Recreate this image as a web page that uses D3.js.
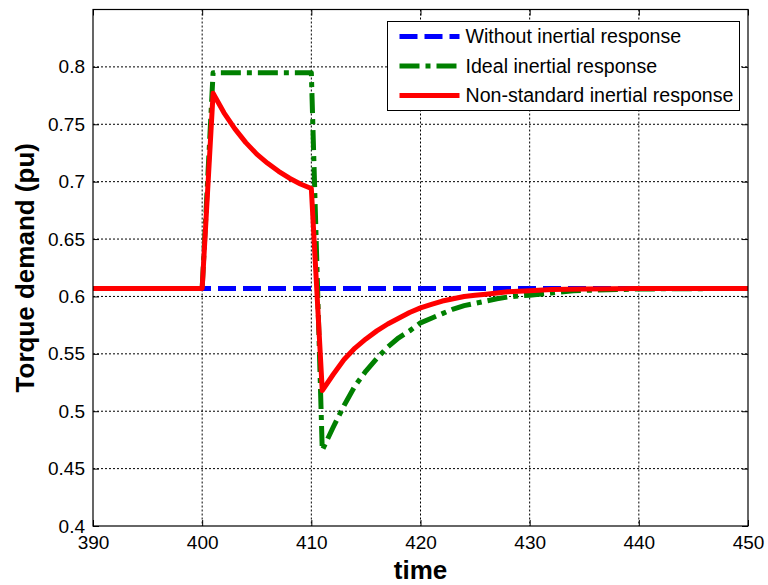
<!DOCTYPE html>
<html>
<head>
<meta charset="utf-8">
<script src="https://cdn.jsdelivr.net/npm/d3@7"></script>
<style>
  body { margin: 0; background: #fff; }
  text { font-family: "Liberation Sans", Arial, sans-serif; }
</style>
</head>
<body>
<div id="chart"></div>
<script>
// Chart data
var xTicks = [390, 400, 410, 420, 430, 440, 450];
var yTicks = [0.4, 0.45, 0.5, 0.55, 0.6, 0.65, 0.7, 0.75, 0.8];

var blueT = [390, 450];
var blueV = [0.607, 0.607];

var greenT = [390, 400, 401, 410, 411, 412, 413, 414, 415, 416, 417, 418, 419, 420,
  421, 422, 423, 424, 425, 426, 427, 428, 429, 430, 432, 434, 436, 438, 440, 450];
var greenV = [0.607, 0.607, 0.795, 0.795, 0.466, 0.486, 0.505, 0.522, 0.535, 0.546, 0.556, 0.564, 0.570, 0.577,
  0.581, 0.585, 0.589, 0.592, 0.594, 0.596, 0.598, 0.5995, 0.6005, 0.601, 0.603, 0.605, 0.6055, 0.606, 0.6065, 0.607];

var redT = [390, 400, 401, 402, 403, 404, 405, 406, 407, 408, 409, 410, 411, 412, 413, 414, 415, 416, 417, 418,
  419, 420, 421, 422, 423, 424, 425, 426, 427, 428, 429, 430, 432, 435, 440, 450];
var redV = [0.607, 0.607, 0.777, 0.760, 0.746, 0.734, 0.724, 0.716, 0.709, 0.703, 0.698, 0.694, 0.518, 0.532, 0.545, 0.555, 0.563, 0.570, 0.576, 0.581,
  0.586, 0.590, 0.593, 0.596, 0.598, 0.600, 0.601, 0.602, 0.603, 0.604, 0.6045, 0.605, 0.606, 0.6065, 0.607, 0.607];

var seriesNames = ["Without inertial response", "Ideal inertial response", "Non-standard inertial response"];

// canvas
var svgWidth = 768;
var svgHeight = 585;
var margin = { top: 9.5, right: 20, bottom: 59, left: 93 };
var width = svgWidth - margin.left - margin.right;
var height = svgHeight - margin.top - margin.bottom;

var svg = d3.select("#chart")
  .append("svg")
  .attr("width", svgWidth)
  .attr("height", svgHeight);

var chartGroup = svg.append("g")
  .attr("transform", `translate(${margin.left}, ${margin.top})`);

var xScale = d3.scaleLinear().domain([390, 450]).range([0, width]);
var yScale = d3.scaleLinear().domain([0.4, 0.85]).range([height, 0]);

// dotted grid
chartGroup.append("g")
  .selectAll("line")
  .data(xTicks.slice(1, -1))
  .enter()
  .append("line")
  .attr("x1", d => xScale(d)).attr("x2", d => xScale(d))
  .attr("y1", 0).attr("y2", height)
  .attr("stroke", "#000").attr("stroke-width", 1)
  .attr("stroke-dasharray", "2,2");

chartGroup.append("g")
  .selectAll("line")
  .data(yTicks.slice(1))
  .enter()
  .append("line")
  .attr("y1", d => yScale(d)).attr("y2", d => yScale(d))
  .attr("x1", 0).attr("x2", width)
  .attr("stroke", "#000").attr("stroke-width", 1)
  .attr("stroke-dasharray", "2,2");

// lines
var line = d3.line()
  .x(d => xScale(d[0]))
  .y(d => yScale(d[1]));

var series = [
  { t: blueT, v: blueV, color: "#0000ff", dash: "18,7" },
  { t: greenT, v: greenV, color: "#008000", dash: "20,6,5,6" },
  { t: redT, v: redV, color: "#ff0000", dash: null }
];

series.forEach(function (s) {
  chartGroup.append("path")
    .datum(d3.zip(s.t, s.v))
    .attr("d", line)
    .attr("fill", "none")
    .attr("stroke", s.color)
    .attr("stroke-width", 5)
    .attr("stroke-linejoin", "round")
    .attr("stroke-dasharray", s.dash);
});

// axes with inward ticks on all sides
var bottomAxis = d3.axisBottom(xScale).tickValues(xTicks).tickSizeInner(-6).tickSizeOuter(0).tickPadding(10);
var leftAxis = d3.axisLeft(yScale).tickValues(yTicks).tickSizeInner(-6).tickSizeOuter(0).tickPadding(8)
  .tickFormat(d3.format("~g"));
var topAxis = d3.axisTop(xScale).tickValues(xTicks).tickSizeInner(-6).tickSizeOuter(0).tickFormat("");
var rightAxis = d3.axisRight(yScale).tickValues(yTicks).tickSizeInner(-6).tickSizeOuter(0).tickFormat("");

chartGroup.append("g").attr("class", "axis").attr("transform", `translate(0, ${height})`).call(bottomAxis);
chartGroup.append("g").attr("class", "axis").call(leftAxis);
chartGroup.append("g").attr("class", "axis").call(topAxis);
chartGroup.append("g").attr("class", "axis").attr("transform", `translate(${width}, 0)`).call(rightAxis);

chartGroup.selectAll(".axis .domain").remove();
chartGroup.selectAll(".axis text")
  .attr("fill", "#000")
  .style("font-size", "19px");
chartGroup.selectAll(".axis line").attr("stroke", "#000");

chartGroup.append("rect")
  .attr("width", width).attr("height", height)
  .attr("fill", "none").attr("stroke", "#000").attr("stroke-width", 1.2);

// axis titles
svg.append("text")
  .attr("transform", `translate(34, ${margin.top + height / 2}) rotate(-90)`)
  .attr("text-anchor", "middle")
  .attr("font-weight", "bold")
  .style("font-size", "26px")
  .text("Torque demand (pu)");

svg.append("text")
  .attr("x", margin.left + width / 2)
  .attr("y", 579)
  .attr("text-anchor", "middle")
  .attr("font-weight", "bold")
  .style("font-size", "26px")
  .text("time");

// legend
var legend = svg.append("g").attr("transform", "translate(387.5, 21.5)");
legend.append("rect")
  .attr("width", 352).attr("height", 89)
  .attr("fill", "#fff").attr("stroke", "#000").attr("stroke-width", 1);

var rows = legend.selectAll(".row")
  .data(series)
  .enter()
  .append("g")
  .attr("transform", (d, i) => `translate(0, ${15 + i * 29.5})`);

rows.append("line")
  .attr("x1", 12).attr("x2", 72)
  .attr("stroke", d => d.color)
  .attr("stroke-width", 5)
  .attr("stroke-dasharray", d => d.dash);

rows.append("text")
  .attr("x", 78)
  .attr("dy", "0.35em")
  .style("font-size", "19.6px")
  .text((d, i) => seriesNames[i]);
</script>
</body>
</html>
